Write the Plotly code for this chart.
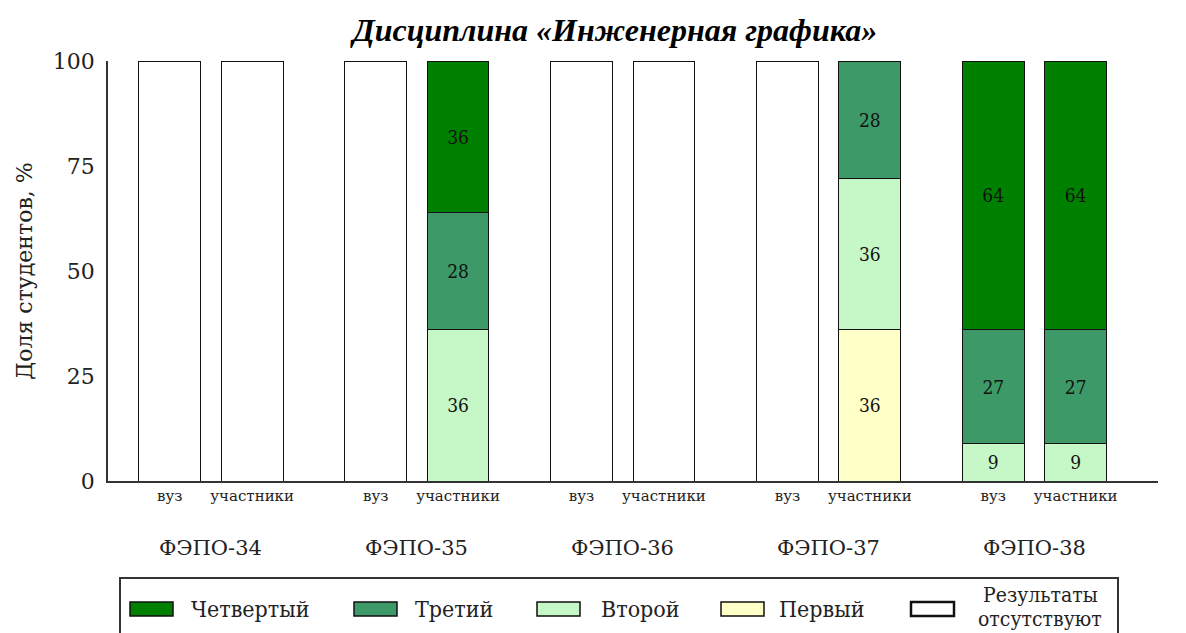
import plotly.graph_objects as go

# ---- data ----
groups = ["ФЭПО-34", "ФЭПО-35", "ФЭПО-36", "ФЭПО-37", "ФЭПО-38"]
subgroups = ["вуз", "участники"]

# values per bar, order: (34 вуз, 34 уч, 35 вуз, 35 уч, ..., 38 вуз, 38 уч)
first = [0, 0, 0, 0, 0, 0, 0, 36, 0, 0]
second = [0, 0, 0, 36, 0, 0, 0, 36, 9, 9]
third = [0, 0, 0, 28, 0, 0, 0, 28, 27, 27]
fourth = [0, 0, 0, 36, 0, 0, 0, 0, 64, 64]
missing = [100, 100, 100, 0, 100, 100, 100, 0, 0, 0]

yticks = [0, 25, 50, 75, 100]

title = "Дисциплина «Инженерная графика»"
ytitle = "Доля студентов, %"

legend_names = ["Четвертый", "Третий", "Второй", "Первый", "Результаты<br>отсутствуют"]

# ---- figure geometry (page pixels; page body has 8px margin) ----
W, H = 1178, 625
OFF = 8
PL, PR, PT, PB = 108, 1158, 61, 481  # plot area in page pixels


def px(xp):
    return (xp - PL) / (PR - PL)


def py(yp):
    return (PB - yp) / (PB - PT)


# ---- positions ----
xpos = []
xlabels = []
for gi, g in enumerate(groups):
    for si, s in enumerate(subgroups):
        xpos.append(gi * 2.5 + si)
        xlabels.append(s)

colors = {"Первый": "#ffffc8", "Второй": "#c6f7c6", "Третий": "#3d9a68",
          "Четвертый": "#008000", "Результаты<br>отсутствуют": "#ffffff"}
stack = [("Первый", first), ("Второй", second), ("Третий", third),
         ("Четвертый", fourth), ("Результаты<br>отсутствуют", missing)]

fig = go.Figure()
for name, vals in stack:
    yv = [v if v else None for v in vals]
    show_txt = name != "Результаты<br>отсутствуют"
    txt = [str(v) if (v and show_txt) else "" for v in vals]
    fig.add_trace(go.Bar(
        x=xpos, y=yv, name=name, width=0.75,
        marker=dict(color=colors[name], line=dict(color="#111111", width=1)),
        text=txt, textposition="inside", insidetextanchor="middle",
        textangle=0, constraintext="none",
        textfont=dict(family="DejaVu Serif Condensed, DejaVu Serif", size=19, color="#111111"),
        hoverinfo="skip", showlegend=False,
    ))

for gi, g in enumerate(groups):
    fig.add_annotation(
        x=gi * 2.5 + 0.5, y=py(548), xref="x", yref="paper",
        text=g, showarrow=False, yanchor="middle",
        font=dict(family="DejaVu Serif", size=21, color="#222222"),
    )

# ---- manual legend (wide rectangular swatches like the original) ----
fig.add_shape(type="rect", xref="paper", yref="paper",
              x0=px(120), x1=px(1118), y0=py(578), y1=py(660),
              line=dict(color="#333333", width=2), fillcolor="rgba(0,0,0,0)")
sw_x = [130, 354, 537, 721, 911]
tx_x = [189, 413, 599, 777, 1040]
leg_font = dict(family="DejaVu Serif Condensed, DejaVu Serif", size=23, color="#222222")
for i, name in enumerate(legend_names):
    last = i == len(legend_names) - 1
    fig.add_shape(type="rect", xref="paper", yref="paper",
                  x0=px(sw_x[i]), x1=px(sw_x[i] + 43), y0=py(616), y1=py(602),
                  line=dict(color="#111111", width=2.5 if last else 1.5),
                  fillcolor=colors[name])
    if not last:
        fig.add_annotation(x=px(tx_x[i]), y=py(609), xref="paper", yref="paper",
                           text=name, showarrow=False, xanchor="left", yanchor="middle",
                           font=leg_font)
    else:
        lines = name.split("<br>")
        for li, (ln, yy) in enumerate(zip(lines, [595, 619])):
            fig.add_annotation(x=px(tx_x[i]), y=py(yy), xref="paper", yref="paper",
                               text=ln, showarrow=False, xanchor="center", yanchor="middle",
                               font=dict(leg_font, size=21))

fig.update_layout(
    barmode="stack",
    width=W, height=H,
    margin=dict(l=PL - OFF, r=W - (PR - OFF), t=PT - OFF, b=H - (PB - OFF)),
    paper_bgcolor="white", plot_bgcolor="white",
    title=dict(text="<b><i>" + title + "</i></b>", x=px(615), xref="paper", xanchor="center",
               y=1 - (30 - OFF) / H, yanchor="middle",
               font=dict(family="Liberation Serif", size=32, color="#000000")),
    xaxis=dict(range=[-0.75, 12.0], tickmode="array", tickvals=xpos, ticktext=xlabels,
               showline=True, linecolor="#333333", linewidth=1.5, showgrid=False,
               zeroline=False, ticks="",
               tickfont=dict(family="DejaVu Serif", size=15, color="#222222")),
    yaxis=dict(range=[0, 100], tickmode="array", tickvals=yticks,
               showline=True, linecolor="#333333", linewidth=1.5, showgrid=False,
               zeroline=False, ticks="", ticklabelstandoff=7,
               title=dict(text=ytitle, standoff=14,
                          font=dict(family="DejaVu Serif", size=22, color="#222222")),
               tickfont=dict(family="DejaVu Serif", size=22, color="#222222")),
    showlegend=False,
)

fig.write_html("out.html")
